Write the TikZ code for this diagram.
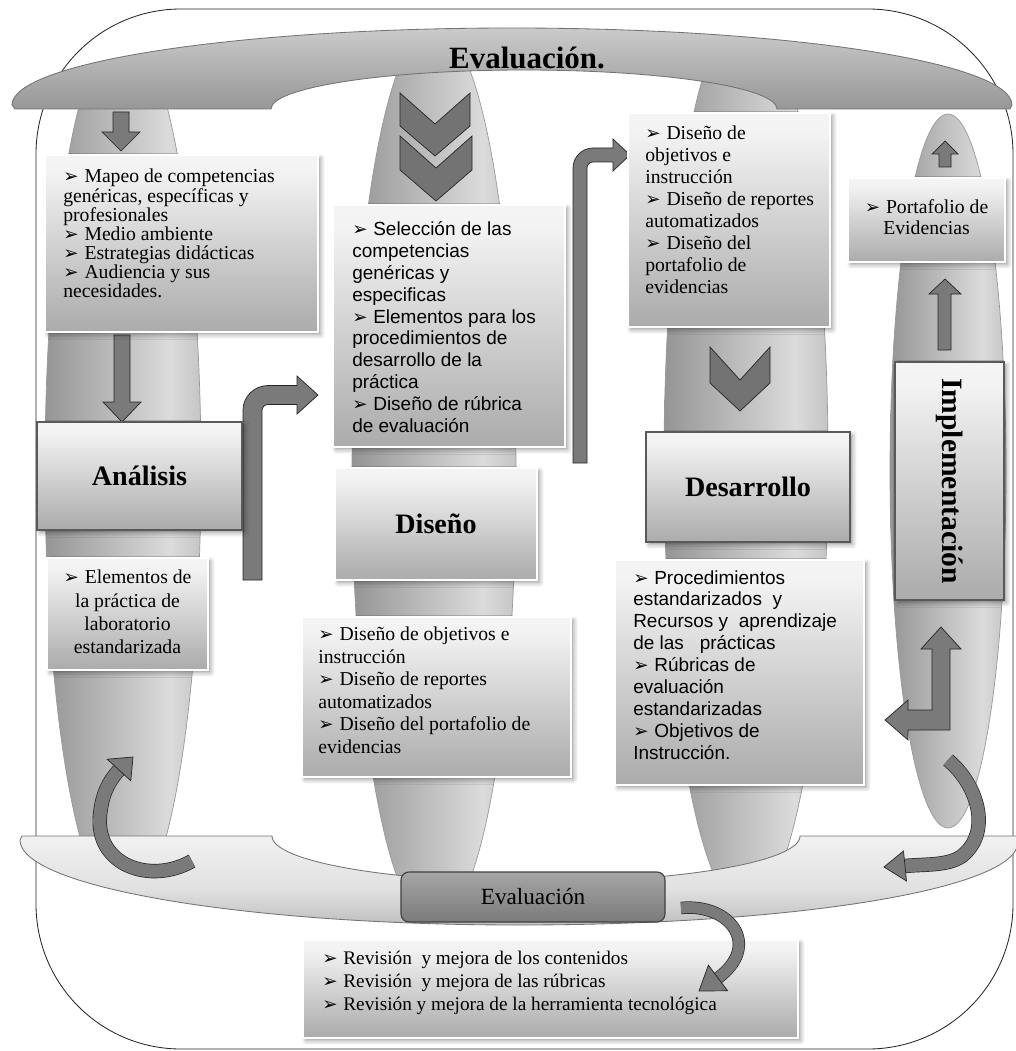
\documentclass[tikz,border=0pt]{standalone}
\usepackage{fontspec}
\setmainfont{Liberation Serif}
\newfontfamily\arialfont{Liberation Sans}
\newfontfamily\symfont{DejaVu Sans}
\usetikzlibrary{shadows.blur}

\newdimen\pu
\pu=0.025cm

\pgfdeclareverticalshading{boxshade}{100bp}{color(0bp)=(black!46); color(30bp)=(black!30); color(70bp)=(black!5); color(100bp)=(white)}
\pgfdeclarehorizontalshading{colshade}{100bp}{color(0bp)=(black!60); color(30bp)=(black!38); color(65bp)=(black!14); color(100bp)=(black!45)}
\pgfdeclareverticalshading{topbanner}{100bp}{color(0bp)=(black!50); color(40bp)=(black!35); color(100bp)=(black!10)}
\pgfdeclareverticalshading{botbanner}{100bp}{color(0bp)=(black!42); color(45bp)=(black!12); color(100bp)=(white)}

\newcommand\bul{{\symfont\fontsize{13pt}{13pt}\selectfont ➢}\hspace{0.3em}}

\begin{document}
\begin{tikzpicture}[x=0.025cm,y=-0.025cm,
  frameline/.style={draw=black!85, line width=0.6pt},
  column/.style={draw=black!40, line width=0.5pt, shading=colshade},
  tbox/.style={draw=white, line width=0.8pt, shading=boxshade,
    blur shadow={shadow xshift=2pt, shadow yshift=-2pt, shadow blur radius=3pt}, inner sep=0pt},
  headbox/.style={tbox, draw=black!65, line width=1.3pt, font=\fontsize{20pt}{24pt}\selectfont\bfseries},
  sertxt/.style={font=\fontsize{14pt}{16pt}\selectfont, align=left, inner sep=0pt, anchor=north west},
  santxt/.style={font=\arialfont\fontsize{13.5pt}{15.6pt}\selectfont, align=left, inner sep=0pt, anchor=north west},
  blockarrow/.style={fill=black!52, draw=black!85, line width=0.5pt},
  chevron/.style={fill=black!55, draw=black!85, line width=0.5pt},
  curvearrow/.style={draw=black!85, line width=0.5pt, double=black!52, double distance=13\pu},
  evalbox/.style={rounded corners=8\pu, top color=black!35, bottom color=black!52, draw=black!75, line width=0.8pt,
    font=\fontsize{16.5pt}{20pt}\selectfont}
]
\useasboundingbox (0,0) rectangle (1015,1051);

% outer frame
\draw[frameline, rounded corners=145\pu] (36,9) rectangle (1013,1049);

% vertical columns
\begin{scope}
  \clip (0,72) rectangle (1015,885);
  \path[column] (123,470) ellipse [x radius=78, y radius=440];
  \path[column] (434,475) ellipse [x radius=82, y radius=450];
  \path[column] (746,460) ellipse [x radius=82, y radius=450];
  \path[column] (948,471) ellipse [x radius=58, y radius=357];
\end{scope}

% top banner
\path[draw=black!55, line width=0.6pt, shading=topbanner]
  (12,105) .. controls (12,62.5) and (236,28) .. (512,28)
  .. controls (788,28) and (1012,62.5) .. (1012,105) -- (1010,109) -- (777,109)
  .. controls (777,87.5) and (663.7,70) .. (524,70)
  .. controls (384.3,70) and (271,87.5) .. (271,109) -- (15,109) -- cycle;
\node[font=\fontsize{22pt}{26pt}\selectfont\bfseries] (evaltop) at (527,58) {Evaluación.};

% bottom banner
\path[draw=black!55, line width=0.6pt, shading=botbanner]
  (20,840) -- (22,836) -- (272,836)
  .. controls (272,861.4) and (390.2,882) .. (536,882)
  .. controls (681.8,882) and (800,861.4) .. (800,836) -- (1018,836) -- (1018,842)
  .. controls (1018,888.9) and (794.6,925) .. (519,925)
  .. controls (243.4,925) and (20,886.9) .. (20,840) -- cycle;

% small arrows in the columns
\filldraw[blockarrow] (113,112) -- (129,112) -- (129,132) -- (140,132) -- (121,151) -- (102,132) -- (113,132) -- cycle;
\filldraw[blockarrow] (114,335) -- (130,335) -- (130,402) -- (141,402) -- (122,422) -- (103,402) -- (114,402) -- cycle;
\filldraw[blockarrow] (939,167) -- (951,167) -- (951,154) -- (958,154) -- (945,141) -- (932,154) -- (939,154) -- cycle;
\filldraw[blockarrow] (938,350) -- (951,350) -- (951,294) -- (961,294) -- (945,279) -- (929,294) -- (938,294) -- cycle;

% chevrons
\filldraw[chevron] (400,93) -- (435,124) -- (470,93) -- (470,126) -- (435,156) -- (400,126) -- cycle;
\filldraw[chevron] (400,136) -- (436,168) -- (472,136) -- (472,170) -- (436,201) -- (400,170) -- cycle;
\filldraw[chevron] (710,347) -- (740,380) -- (770,347) -- (770,383) -- (740,411) -- (710,383) -- cycle;

% bent arrows
\filldraw[blockarrow] (243,580) -- (243,410)
  .. controls (243,396.7) and (254.2,385.5) .. (268,385.5) -- (297,385.5) -- (297,376)
  -- (318,395) -- (297,414) -- (297,404.5) -- (268,404.5)
  .. controls (264.7,404.5) and (262,407.2) .. (262,410.5) -- (262,580) -- cycle;
\filldraw[blockarrow] (573,463) -- (573,168)
  .. controls (573,157) and (582,148) .. (593,148) -- (613,148) -- (613,139)
  -- (630,155) -- (613,171) -- (613,162) -- (593,162)
  .. controls (589.7,162) and (587,164.7) .. (587,168) -- (587,463) -- cycle;
\filldraw[blockarrow] (941,627) -- (961,649) -- (950,649) -- (950,730) -- (908,730) -- (908,740)
  -- (885,720) -- (908,700) -- (908,710) -- (932,710) -- (932,649) -- (921,649) -- cycle;

% text boxes
\node[tbox, minimum width=273\pu, minimum height=177\pu] (mapeo) at (181.5,243.5) {};
\node[sertxt, font=\fontsize{14pt}{13.6pt}\selectfont] (mapeoT) at (63,169)
  {\bul Mapeo de competencias\\genéricas, específicas y\\profesionales\\\bul Medio ambiente\\\bul Estrategias didácticas\\\bul Audiencia y sus\\necesidades.};

\node[headbox, minimum width=205\pu, minimum height=108\pu] (analisis) at (139.5,476) {Análisis};

\node[tbox, minimum width=161\pu, minimum height=112\pu] (elem) at (127.5,614) {};
\node[sertxt, anchor=north, align=center, font=\fontsize{14pt}{16.4pt}\selectfont] (elemT) at (127.5,570)
  {\bul Elementos de\\la práctica de\\laboratorio\\estandarizada};

\node[tbox, minimum width=232\pu, minimum height=242\pu] (selec) at (449,326) {};
\node[santxt] (selecT) at (352,221)
  {\bul Selección de las\\competencias\\genéricas y\\especificas\\\bul Elementos para los\\procedimientos de\\desarrollo de la\\práctica\\\bul Diseño de rúbrica\\de evaluación};

\node[tbox, minimum width=202\pu, minimum height=112\pu, font=\fontsize{20pt}{24pt}\selectfont\bfseries] (diseno) at (436,524) {Diseño};

\node[tbox, minimum width=269\pu, minimum height=160\pu] (disobj) at (436.5,697) {};
\node[sertxt] (disobjT) at (318,627)
  {\bul Diseño de objetivos e\\instrucción\\\bul Diseño de reportes\\automatizados\\\bul Diseño del portafolio de\\evidencias};

\node[tbox, minimum width=202\pu, minimum height=214\pu] (disobjB) at (729,220) {};
\node[sertxt, font=\fontsize{14pt}{15.6pt}\selectfont] (disobjBT) at (645,126)
  {\bul Diseño de\\objetivos e\\instrucción\\\bul Diseño de reportes\\automatizados\\\bul Diseño del\\portafolio de\\evidencias};

\node[tbox, minimum width=157\pu, minimum height=84\pu] (porta) at (926.5,220) {};
\node[sertxt, anchor=north, align=center, font=\fontsize{14pt}{15pt}\selectfont] (portaT) at (926.5,199)
  {\bul Portafolio de\\Evidencias};

\node[headbox, minimum width=204\pu, minimum height=110\pu] (desa) at (748,487) {Desarrollo};
\node[headbox, rotate=-90, minimum width=238\pu, minimum height=109\pu, font=\fontsize{21pt}{24pt}\selectfont\bfseries] (impl) at (949.5,481) {Implementación};

\node[tbox, minimum width=249\pu, minimum height=225\pu] (proc) at (739.5,672.5) {};
\node[santxt] (procT) at (633,570)
  {\bul Procedimientos\\estandarizados\ \ y\\Recursos y\ \ aprendizaje\\de las\ \ \ prácticas\\\bul Rúbricas de\\evaluación\\estandarizadas\\\bul Objetivos de\\Instrucción.};

% bottom evaluation
\node[evalbox, minimum width=264\pu, minimum height=50\pu] (evalbot) at (533,897) {Evaluación};
\node[tbox, minimum width=495\pu, minimum height=98\pu] (revi) at (550.5,989) {};
\node[sertxt, font=\fontsize{13.7pt}{16.4pt}\selectfont] (reviT) at (322,951)
  {\bul Revisión\ \ y mejora de los contenidos\\\bul Revisión\ \ y mejora de las rúbricas\\\bul Revisión y mejora de la herramienta tecnológica};

% curved arrows
\draw[curvearrow] (192,861) .. controls (150,885) and (95,865) .. (100,815) .. controls (102,795) and (108,782) .. (119,770);
\filldraw[blockarrow] (130.8,780.8) -- (133,757) -- (107.2,759.2) -- cycle;

\draw[curvearrow] (948,760) .. controls (978,785) and (992,832) .. (962,856) .. controls (948,866) and (925,864) .. (905,866);
\filldraw[blockarrow] (906.5,881) -- (884,867) -- (903.5,851) -- cycle;

\draw[curvearrow, double distance=11\pu] (681,908) .. controls (730,903) and (762,945) .. (718,978);
\filldraw[blockarrow] (727.6,990.8) -- (699,991) -- (708.4,965.2) -- cycle;
\end{tikzpicture}
\end{document}
